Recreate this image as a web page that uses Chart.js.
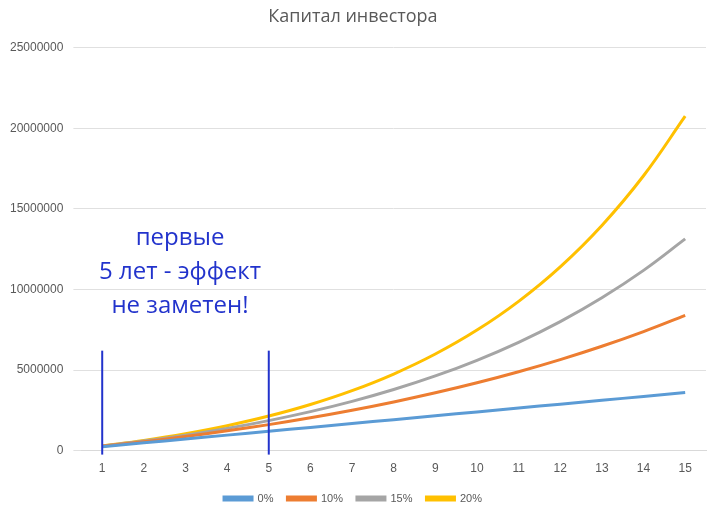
<!DOCTYPE html>
<html>
<head>
<meta charset="utf-8">
<script src="https://cdn.jsdelivr.net/npm/chart.js@4"></script>
<style>
  body { margin: 0; background: #fff; }
  #wrap { width: 720px; height: 514px; }
</style>
</head>
<body>
<div id="wrap"><canvas id="chart"></canvas></div>
<script>
const years = ["1","2","3","4","5","6","7","8","9","10","11","12","13","14","15"];

const rate0 = [240000,480000,720000,960000,1200000,1440000,1680000,1920000,2160000,2400000,2640000,2880000,3120000,3360000,3600000];
const rate10 = [264000,554400,873840,1225224,1611746,2036921,2504613,3019074,3584982,4207480,4892228,5645451,6473996,7385395,8387935];
const rate15 = [276000,593400,958410,1378172,1860897,2416031,3054436,3788601,4632891,5603824,6720398,8004458,9481127,11179296,13132190];
const rate20 = [288000,633600,1048320,1545984,2143181,2859817,3719780,4751736,5990083,7476100,9259320,11399184,13967021,17048425,20746110];

const markYears = ["1", "5"];
const noteLines = ["первые", "5 лет - эффект", "не заметен!"];

/* BLUE MARKS AND NOTE */
const notePlugin = {
  id: "note",
  afterDatasetsDraw(chart) {
    const ctx = chart.ctx;
    const x = chart.scales.x;
    const y = chart.scales.y;
    ctx.save();
    ctx.strokeStyle = "#2233cc";
    ctx.lineWidth = 2;
    markYears.forEach(m => {
      const px = x.getPixelForValue(years.indexOf(m));
      ctx.beginPath();
      ctx.moveTo(px, y.getPixelForValue(6200000));
      ctx.lineTo(px, y.getPixelForValue(0) + 4);
      ctx.stroke();
    });
    ctx.fillStyle = "#2233cc";
    ctx.font = "24px 'Open Sans', sans-serif";
    ctx.textAlign = "center";
    ctx.textBaseline = "middle";
    noteLines.forEach((t, i) => {
      ctx.fillText(t, 180, 238 + i * 34);
    });
    ctx.restore();
  }
};

function series(label, data, color) {
  return {
    label: label,
    data: data,
    borderColor: color,
    backgroundColor: color,
    borderWidth: 3,
    tension: 0.4,
    pointRadius: 0
  };
}

new Chart(document.getElementById("chart"), {
  type: "line",
  data: {
    labels: years,
    datasets: [
      series("0%", rate0, "#5b9bd5"),
      series("10%", rate10, "#ed7d31"),
      series("15%", rate15, "#a5a5a5"),
      series("20%", rate20, "#ffc000")
    ]
  },
  options: {
    responsive: true,
    maintainAspectRatio: false,
    animation: false,
    layout: { padding: { left: 0, right: 14, top: 2, bottom: 0 } },
    plugins: {
      title: {
        display: true,
        text: "Капитал инвестора",
        color: "#595959",
        font: { size: 18, weight: "normal", family: "'Open Sans', sans-serif" },
        padding: { top: 4, bottom: 20 }
      },
      legend: {
        position: "bottom",
        labels: {
          color: "#595959",
          boxWidth: 28,
          boxHeight: 3,
          font: { size: 11 },
          padding: 14
        }
      }
    },
    scales: {
      x: {
        offset: true,
        grid: { display: false },
        border: { color: "#d9d9d9" },
        ticks: { color: "#595959", font: { size: 12 } }
      },
      y: {
        min: 0,
        max: 25000000,
        grid: { color: "#e0e0e0" },
        border: { display: false },
        ticks: {
          stepSize: 5000000,
          color: "#595959",
          font: { size: 12 },
          padding: 10,
          callback: v => String(v)
        }
      }
    }
  },
  plugins: [notePlugin]
});
</script>
</body>
</html>
